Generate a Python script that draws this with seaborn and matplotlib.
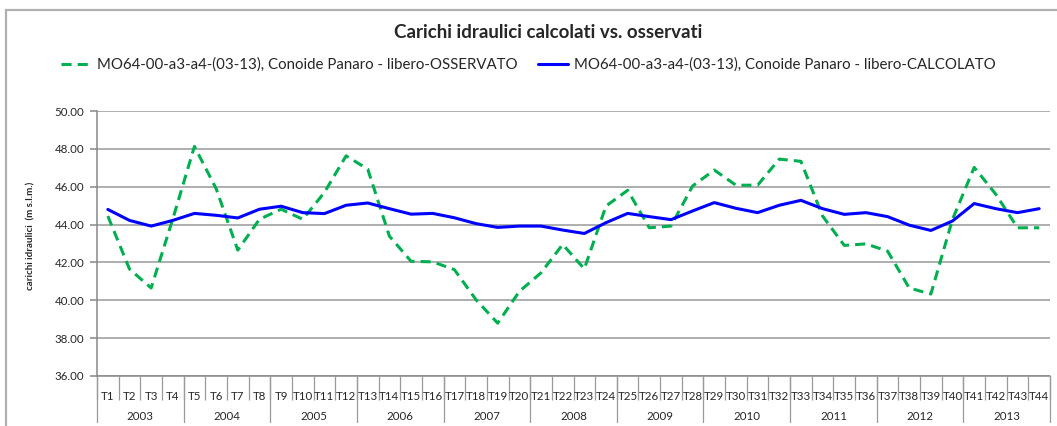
import numpy as np
import pandas as pd
import matplotlib
matplotlib.use("Agg")
import matplotlib.pyplot as plt
from matplotlib.lines import Line2D
import seaborn as sns

# ---- data ----
periods = [f"T{i}" for i in range(1, 45)]
years = ["2003", "2004", "2005", "2006", "2007", "2008", "2009", "2010", "2011", "2012", "2013"]
observed = [44.45, 41.65, 40.65, 44.3, 48.13, 45.9, 42.65, 44.28, 44.81, 44.28, 45.7,
            47.63, 46.93, 43.39, 42.06, 42.03, 41.62, 40.03, 38.79, 40.47, 41.45, 42.95,
            41.66, 44.98, 45.81, 43.83, 43.92, 46.04, 46.88, 46.08, 46.08, 47.46, 47.34,
            44.45, 42.9, 42.98, 42.6, 40.65, 40.33, 44.28, 47.02, 45.6, 43.83, 43.83]
computed = [44.8, 44.22, 43.92, 44.22, 44.59, 44.49, 44.35, 44.81, 44.97, 44.63, 44.58,
            45.02, 45.14, 44.84, 44.55, 44.59, 44.36, 44.05, 43.85, 43.92, 43.92, 43.71,
            43.53, 44.1, 44.59, 44.42, 44.26, 44.72, 45.16, 44.86, 44.63, 45.02, 45.28,
            44.84, 44.54, 44.63, 44.42, 43.97, 43.69, 44.19, 45.11, 44.84, 44.63, 44.84]
label_obs = "MO64-00-a3-a4-(03-13), Conoide Panaro - libero-OSSERVATO"
label_calc = "MO64-00-a3-a4-(03-13), Conoide Panaro - libero-CALCOLATO"
title = "Carichi idraulici calcolati vs. osservati"
ylabel = "carichi idraulici  (m s.l.m.)"
yticks = [36, 38, 40, 42, 44, 46, 48, 50]

df = pd.DataFrame({"idx": np.arange(len(periods)), "obs": observed, "calc": computed})

sns.set_style("white")
plt.rcParams["font.family"] = ["Lato", "DejaVu Sans"]

W, H = 1057, 426
fig = plt.figure(figsize=(W / 100, H / 100), dpi=100)
L, R, T, B = 97, 1050, 111, 376
ax = fig.add_axes([L / W, 1 - B / H, (R - L) / W, (B - T) / H])

green = "#00B050"
blue = "#0000FF"
sns.lineplot(data=df, x="idx", y="obs", ax=ax, color=green, lw=2.2,
             linestyle=(0, (3.3, 2.0)), label=label_obs)
sns.lineplot(data=df, x="idx", y="calc", ax=ax, color=blue, lw=2.2, label=label_calc)

ax.set_xlim(-0.5, len(periods) - 0.5)
ax.set_ylim(36, 50)
ax.set_yticks(yticks)
ax.set_yticklabels([f"{v:.2f}" for v in yticks], fontsize=8.3)
ax.yaxis.grid(True, color="#999999", lw=1.1)
ax.set_axisbelow(True)
for s in ["top", "right", "bottom"]:
    ax.spines[s].set_visible(False)
ax.spines["left"].set_color("#888888")
ax.spines["left"].set_linewidth(1.1)
ax.tick_params(axis="y", length=5, color="#888888", width=1.1, pad=4, left=True)

# category axis: boundaries as major ticks, labels on minor ticks
ax.set_xticks(np.arange(-0.5, len(periods), 1))
ax.set_xticklabels([])
ax.tick_params(axis="x", which="major", length=17, color="#999999", width=0.9, bottom=True)
ax.set_xticks(np.arange(len(periods)), minor=True)
ax.set_xticklabels(periods, minor=True, fontsize=8.3)
ax.tick_params(axis="x", which="minor", length=0, pad=11)
ax.set_xlabel("")
ax.set_ylabel(ylabel, fontsize=7, fontweight="bold")
ax.yaxis.set_label_coords(-0.065, 0.53)

# bottom horizontal axis line
ax.axhline(36, color="#888888", lw=1.1, clip_on=False)

# year groups
trans = ax.get_xaxis_transform()
ydown = -(422 - B) / (B - T)
for k in range(len(years) + 1):
    xb = -0.5 + 4 * k
    ax.plot([xb, xb], [0, ydown], transform=trans, color="#999999", lw=0.9, clip_on=False)
for k, yr in enumerate(years):
    ax.text(4 * k + 1.5, -(416 - B) / (B - T), yr, transform=trans, ha="center",
            va="center", fontsize=8.3)

ax.get_legend().remove()
h, l = ax.get_legend_handles_labels()
fig.legend(h, l, loc="center", bbox_to_anchor=(0.5, 1 - 65 / H), ncol=2, frameon=False,
           fontsize=10.8, handlelength=2.0, columnspacing=1.4, handletextpad=0.4)
fig.text(0.519, 1 - 32 / H, title, ha="center", va="center", fontsize=13.5, fontweight="bold")

# chart border (top & left visible)
fig.add_artist(Line2D([6 / W, 6 / W], [0, 1 - 10 / H], color="#b0b0b0", lw=1.6))
fig.add_artist(Line2D([6 / W, 1], [1 - 10 / H, 1 - 10 / H], color="#b0b0b0", lw=1.6))

fig.savefig("out.png", dpi=100)
